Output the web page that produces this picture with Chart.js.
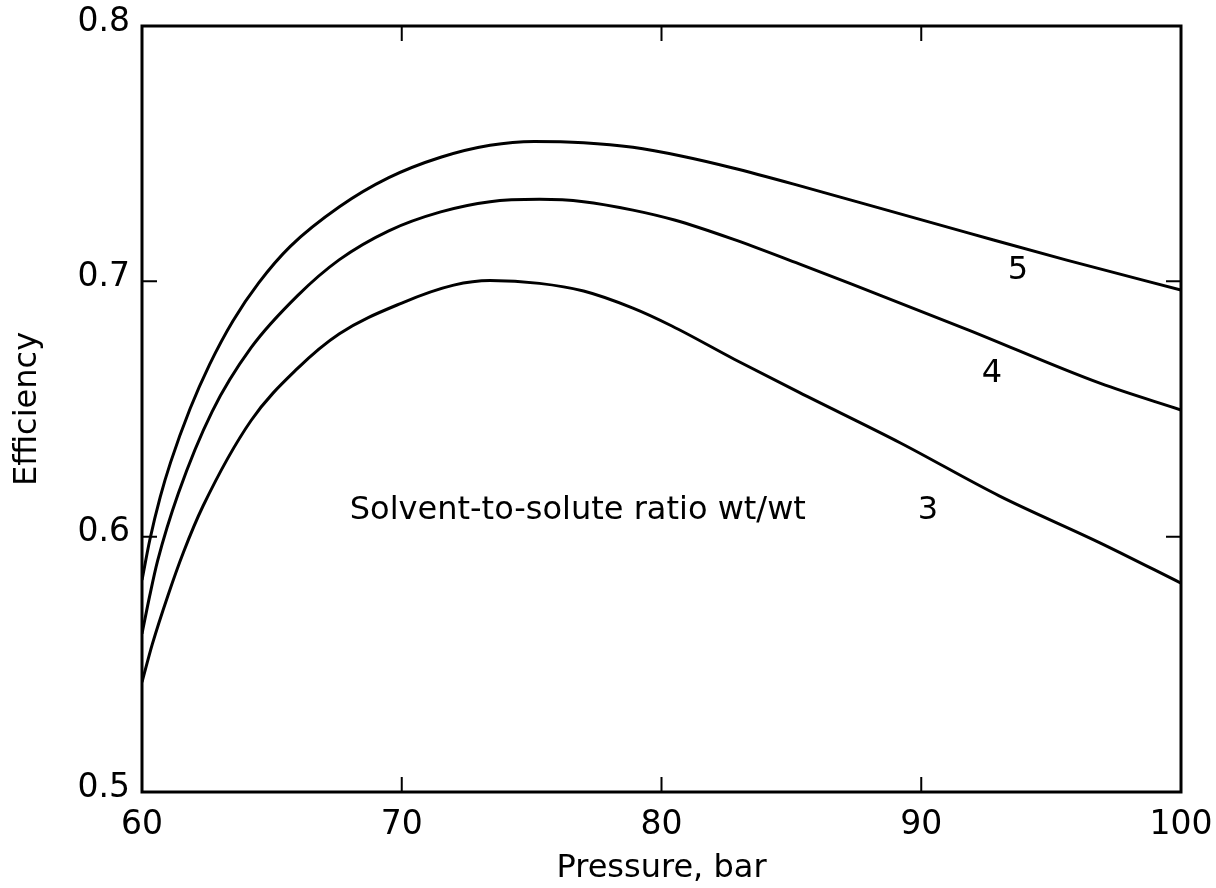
<!DOCTYPE html>
<html>
<head>
<meta charset="utf-8">
<title>Efficiency vs pressure</title>
<script src="https://cdn.jsdelivr.net/npm/chart.js@4.4.1/dist/chart.umd.min.js"></script>
<style>
  html, body { margin: 0; padding: 0; background: #fff; }
  #chart { display: block; }
</style>
</head>
<body>
<canvas id="chart" width="1216" height="888"></canvas>
<script>
// Extraction efficiency vs pressure, one curve per solvent-to-solute ratio (wt/wt)

const pressureTicks = [60, 70, 80, 90, 100];
const efficiencyTicks = [0.5, 0.6, 0.7, 0.8];

// ratio 3
const pressure3 = [60, 60.4, 61, 61.6, 62.35, 64.2, 66, 67.6, 70, 72, 73.4, 75.3, 77, 78.9, 80.4, 82.8, 85.3, 89.2, 93, 96.9, 100];
const efficiency3 = [0.543, 0.558, 0.577, 0.594, 0.612, 0.6455, 0.666, 0.6795, 0.6915, 0.6985, 0.7003, 0.6992, 0.6962, 0.6895, 0.6825, 0.6695, 0.6565, 0.6367, 0.6160, 0.5975, 0.5818];

// ratio 4
const pressure4 = [60, 60.3, 60.6, 61.4, 62.7, 64.2, 66, 67.6, 69.5, 71.5, 73.4, 75.3, 77, 78.9, 80.5, 82.75, 85.3, 87.3, 91.8, 96.9, 100];
const efficiency4 = [0.562, 0.577, 0.5905, 0.617, 0.649, 0.674, 0.6945, 0.7085, 0.7198, 0.7272, 0.7312, 0.7321, 0.7312, 0.7279, 0.724, 0.7165, 0.7068, 0.699, 0.681, 0.660, 0.6496];

// ratio 5
const pressure5 = [60, 60.3, 60.7, 61.1, 61.85, 62.6, 63.5, 64.5, 65.7, 67.6, 69.5, 71.5, 73.4, 75.1, 77, 78.9, 80.8, 82.75, 85.3, 87.3, 91.8, 95.6, 100];
const efficiency5 = [0.583, 0.5987, 0.6155, 0.6291, 0.6501, 0.6674, 0.6845, 0.6995, 0.7136, 0.7292, 0.7406, 0.7486, 0.7533, 0.7548, 0.7543, 0.7525, 0.749, 0.7444, 0.7375, 0.7318, 0.7190, 0.7083, 0.6966];

const INK = '#000';
const FONT = '"DejaVu Sans", sans-serif';

// text written inside the plot, placed in data units
const notes = [
    { text: 'Solvent-to-solute ratio wt/wt', x: 68.0, y: 0.610, align: 'left' },
    { text: '3', x: 90.26, y: 0.610, align: 'center' },
    { text: '4', x: 92.72, y: 0.664, align: 'center' },
    { text: '5', x: 93.72, y: 0.704, align: 'center' }
];

function toPoints(xs, ys) {
    return xs.map((x, i) => ({ x: x, y: ys[i] }));
}

function curve(xs, ys) {
    return {
        data: toPoints(xs, ys),
        borderColor: INK,
        borderWidth: 3,
        pointRadius: 0,
        fill: false,
        cubicInterpolationMode: 'monotone'
    };
}

// boxed frame with short inward ticks on all four sides, plus the notes
const framePlugin = {
    id: 'frame',
    afterDraw(chart) {
        const { ctx, chartArea: a, scales: { x, y } } = chart;
        const len = 15;
        ctx.save();
        ctx.strokeStyle = INK;
        ctx.lineWidth = 3;
        ctx.strokeRect(a.left, a.top, a.right - a.left, a.bottom - a.top);

        ctx.lineWidth = 2;
        ctx.beginPath();
        x.ticks.forEach(t => {
            const px = x.getPixelForValue(t.value);
            ctx.moveTo(px, a.bottom); ctx.lineTo(px, a.bottom - len);
            ctx.moveTo(px, a.top); ctx.lineTo(px, a.top + len);
        });
        y.ticks.forEach(t => {
            const py = y.getPixelForValue(t.value);
            ctx.moveTo(a.left, py); ctx.lineTo(a.left + len, py);
            ctx.moveTo(a.right, py); ctx.lineTo(a.right - len, py);
        });
        ctx.stroke();

        ctx.fillStyle = INK;
        ctx.font = '32px ' + FONT;
        ctx.textBaseline = 'middle';
        notes.forEach(n => {
            ctx.textAlign = n.align;
            ctx.fillText(n.text, x.getPixelForValue(n.x), y.getPixelForValue(n.y));
        });
        ctx.restore();
    }
};

new Chart(document.getElementById('chart').getContext('2d'), {
    type: 'line',
    data: {
        datasets: [
            curve(pressure3, efficiency3),
            curve(pressure4, efficiency4),
            curve(pressure5, efficiency5)
        ]
    },
    options: {
        responsive: false,
        animation: false,
        devicePixelRatio: 1,
        layout: { padding: { top: 26, right: 35, left: 0, bottom: 0 } },
        plugins: { legend: { display: false }, tooltip: { enabled: false } },
        scales: {
            x: {
                type: 'linear',
                min: 60,
                max: 100,
                afterBuildTicks: s => { s.ticks = pressureTicks.map(v => ({ value: v })); },
                afterFit: s => { s.height = 96; s.paddingLeft = 0; s.paddingRight = 0; },
                grid: { display: false, drawTicks: false },
                border: { display: false },
                ticks: {
                    color: INK,
                    padding: 14,
                    maxRotation: 0,
                    autoSkip: false,
                    font: { family: FONT, size: 33 },
                    callback: v => String(v)
                },
                title: {
                    display: true,
                    text: 'Pressure, bar',
                    color: INK,
                    font: { family: FONT, size: 32 },
                    padding: { top: 0, bottom: 0 }
                }
            },
            y: {
                min: 0.5,
                max: 0.8,
                afterBuildTicks: s => { s.ticks = efficiencyTicks.map(v => ({ value: v })); },
                afterFit: s => { s.width = 142; s.paddingTop = 0; s.paddingBottom = 0; },
                grid: { display: false, drawTicks: false },
                border: { display: false },
                ticks: {
                    color: INK,
                    padding: 12,
                    labelOffset: -4,
                    font: { family: FONT, size: 33 },
                    callback: v => v.toFixed(1)
                },
                title: {
                    display: true,
                    text: 'Efficiency',
                    color: INK,
                    font: { family: FONT, size: 32 },
                    padding: { top: 8, bottom: 0 }
                }
            }
        }
    },
    plugins: [framePlugin]
});
</script>
</body>
</html>
